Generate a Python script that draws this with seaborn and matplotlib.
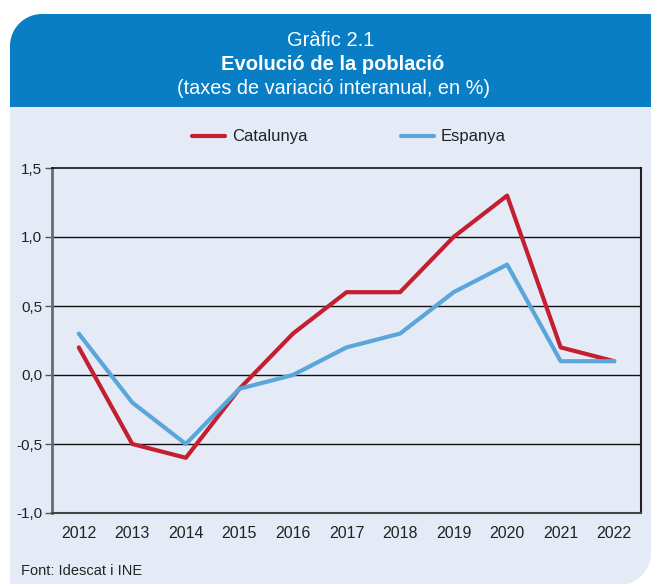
import numpy as np
import pandas as pd
import matplotlib
matplotlib.use("Agg")
import matplotlib.pyplot as plt
from matplotlib.patches import Polygon
import seaborn as sns

years = [2012, 2013, 2014, 2015, 2016, 2017, 2018, 2019, 2020, 2021, 2022]
catalunya = [0.2, -0.5, -0.6, -0.1, 0.3, 0.6, 0.6, 1.0, 1.3, 0.2, 0.1]
espanya = [0.3, -0.2, -0.5, -0.1, 0.0, 0.2, 0.3, 0.6, 0.8, 0.1, 0.1]
series_names = ["Catalunya", "Espanya"]
y_ticks = [-1.0, -0.5, 0.0, 0.5, 1.0, 1.5]
y_tick_labels = ["-1,0", "-0,5", "0,0", "0,5", "1,0", "1,5"]
title_line1 = "Gràfic 2.1"
title_line2 = "Evolució de la població"
title_line3 = "(taxes de variació interanual, en %)"
source_text = "Font: Idescat i INE"

df = pd.DataFrame({
    "year": years * 2,
    "value": catalunya + espanya,
    "series": [series_names[0]] * len(years) + [series_names[1]] * len(years),
})

sns.set_style("white")
plt.rcParams["font.family"] = ["Liberation Sans", "DejaVu Sans"]

W, H = 651, 584
fig = plt.figure(figsize=(W / 100, H / 100), dpi=100)
fig.patch.set_facecolor("white")

header_col = "#0a7ec4"
panel_col = "#e4ebf7"
red = "#c41f30"
blue = "#5aa6da"


def px(x, y):
    return (x / W, 1 - y / H)


def rounded_poly(x0, y0, x1, y1, r, corner):
    pts = []
    if corner == "tl":
        t = np.linspace(np.pi, np.pi / 2, 20)
        cx, cy = x0 + r, y0 + r
        pts += [(cx + r * np.cos(a), cy - r * np.sin(a)) for a in t]
        pts += [(x1, y0), (x1, y1), (x0, y1)]
    else:
        pts += [(x0, y0), (x1, y0)]
        t = np.linspace(0, -np.pi / 2, 20)
        cx, cy = x1 - r, y1 - r
        pts += [(cx + r * np.cos(a), cy - r * np.sin(a)) for a in t]
        pts += [(x0, y1)]
    return [px(a, b) for a, b in pts]


fig.patches.append(Polygon(rounded_poly(10, 14, W, 107, 32, "tl"), closed=True,
                           transform=fig.transFigure, facecolor=header_col,
                           edgecolor="none", zorder=-10))
fig.patches.append(Polygon(rounded_poly(10, 107, W, H + 1, 32, "br"), closed=True,
                           transform=fig.transFigure, facecolor=panel_col,
                           edgecolor="none", zorder=-10))

fig.text(*px(331, 41), title_line1, color="white", fontsize=14.5, ha="center", va="center")
fig.text(*px(333, 65), title_line2, color="white", fontsize=14.5, fontweight="bold",
         ha="center", va="center")
fig.text(*px(334, 89), title_line3, color="white", fontsize=14.3, ha="center", va="center")
fig.text(*px(21, 571), source_text, color="#222222", fontsize=10.5, ha="left", va="center")

ax = fig.add_axes([52 / W, 1 - 513 / H, (641 - 52) / W, (513 - 168) / H])
ax.set_zorder(5)
ax.set_facecolor(panel_col)

sns.lineplot(data=df, x="year", y="value", hue="series", palette=[red, blue],
             linewidth=3, ax=ax, legend=True)

ax.set_xlim(2011.5, 2022.5)
ax.set_ylim(-1.0, 1.5)
ax.set_xticks(years)
ax.set_xticklabels([str(y) for y in years])
ax.set_yticks(y_ticks)
ax.set_yticklabels(y_tick_labels)
ax.set_xlabel("")
ax.set_ylabel("")
for y in y_ticks[1:-1]:
    ax.axhline(y, color="#111111", linewidth=1.0, zorder=0.5)

ax.tick_params(axis="x", length=0, pad=9, labelsize=11.5, labelcolor="#222222")
ax.tick_params(axis="y", length=5, width=1, color="#555555", pad=2, labelsize=11,
               labelcolor="#222222", left=True)

ax.spines["left"].set_color("#6a6a6a")
ax.spines["left"].set_linewidth(2)
ax.spines["bottom"].set_color("#444444")
ax.spines["bottom"].set_linewidth(1.5)
ax.spines["top"].set_color("#111111")
ax.spines["top"].set_linewidth(1.2)
ax.spines["right"].set_color("#222222")
ax.spines["right"].set_linewidth(1.5)
for s in ax.spines.values():
    s.set_visible(True)

handles, labels = ax.get_legend_handles_labels()
ax.get_legend().remove()
leg = fig.legend(handles, labels, loc="center", bbox_to_anchor=px(349, 137), ncol=2,
                 frameon=False, handlelength=2.0, handletextpad=0.4, columnspacing=5.6,
                 prop={"size": 12})
for t in leg.get_texts():
    t.set_color("#222222")

fig.savefig("out.png", dpi=100, facecolor=fig.get_facecolor())
